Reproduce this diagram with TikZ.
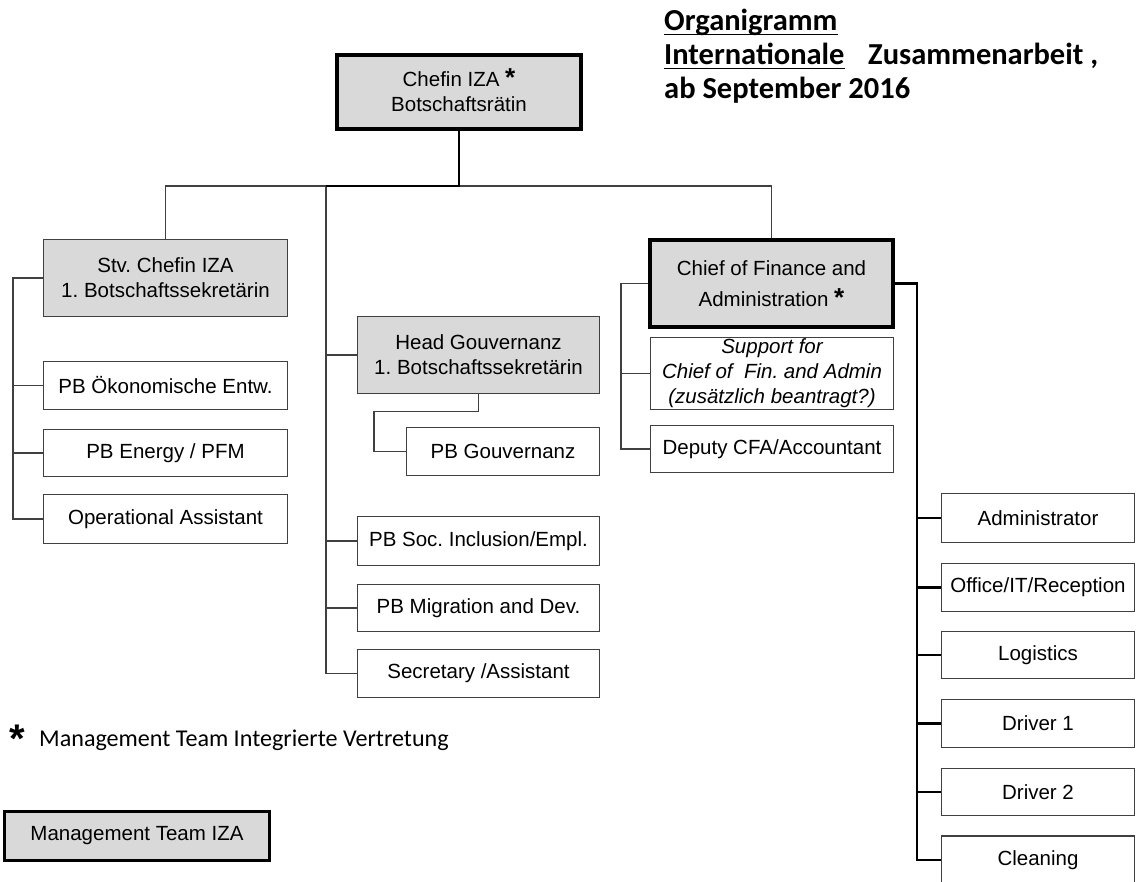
\documentclass[tikz,border=0pt]{standalone}
\usepackage{fontspec}
\setmainfont{Liberation Sans}
\newfontfamily\calibri{Carlito}
\usepackage{tikz}

\definecolor{boxgray}{HTML}{D9D9D9}
\definecolor{linegray}{HTML}{404040}
\newcommand{\boxfont}{\fontsize{20.5}{25}\selectfont\frenchspacing}
\newcommand{\mstar}{\smash{\fontsize{26}{24}\selectfont\bfseries *}}

\begin{document}
\begin{tikzpicture}
[x=1pt,y=-1pt]
\tikzset{
	unit/.style = {rectangle, draw=linegray, line width=1.3pt, inner sep=0pt, minimum width=244pt, minimum height=48pt, font=\boxfont, align=center},
	lead/.style = {unit, fill=boxgray},
	chief/.style = {lead, draw=black, line width=4pt},
	staff/.style = {unit, minimum width=193pt},
	link/.style = {draw=linegray, line width=1.3pt},
	trunk/.style = {draw=black, line width=2.8pt},
	heading/.style = {anchor=base west, inner sep=0pt, font=\calibri\bfseries\fontsize{30.5}{35}\selectfont},
	rule/.style = {draw=black, line width=1.6pt}
}
\useasboundingbox (0,0) rectangle (1137,882);

% title
\node(title1) [heading] at (664,31) {Organigramm};
\node(title2) [heading] at (664,65) {Internationale};
\node(title2b) [heading] at (868,65) {Zusammenarbeit ,};
\node(title3) [heading] at (664,99) {ab September 2016};
\draw[rule] ([yshift=-3.5pt]title1.base west) -- ([yshift=-3.5pt]title1.base east);
\draw[rule] ([yshift=-3.5pt]title2.base west) -- ([yshift=-3.5pt]title2.base east);

% top
\node(chef) [chief, minimum width=244pt, minimum height=74pt] at (459,92) {Chefin IZA \mstar\\Botschaftsrätin};
\coordinate (midbus) at (326,186);

% left branch
\node(stv) [lead, minimum height=77pt] at (165.5,278) {Stv. Chefin IZA\\1. Botschaftssekretärin};
\node(oeko) [unit] at (165.5,385.5) {PB Ökonomische Entw.};
\node(energy) [unit, minimum height=47pt] at (165.5,453) {PB Energy / PFM};
\node(opass) [unit, minimum height=49pt] at (165.5,519) {Operational Assistant};

% middle branch
\node(head) [lead, minimum width=242pt, minimum height=77pt] at (478.5,355) {Head Gouvernanz\\1. Botschaftssekretärin};
\node(pbgouv) [staff] at (503,451.5) {PB Gouvernanz};
\node(soc) [unit, minimum width=242pt, minimum height=49pt] at (478.5,541) {PB Soc. Inclusion/Empl.};
\node(mig) [unit, minimum width=242pt, minimum height=47pt] at (478.5,608) {PB Migration and Dev.};
\node(sec) [unit, minimum width=242pt] at (478.5,673.5) {Secretary /Assistant};

% right branch
\node(cfa) [chief, minimum width=243pt, minimum height=87pt, font=\boxfont\fontsize{20.5}{31}\selectfont] at (771.5,283.5) {Chief of Finance and\\Administration \mstar};
\node(support) [unit, minimum width=243pt, minimum height=72pt, font=\boxfont\itshape] at (772,373.5) {Support for\\Chief of\ \ Fin. and Admin\\(zusätzlich beantragt?)};
\node(deputy) [unit, minimum width=243pt, minimum height=47pt] at (772,449) {Deputy CFA/Accountant};

\node(admin) [staff, minimum height=49pt] at (1038,518) {Administrator};
\node(office) [staff] at (1038,587.5) {Office/IT/Reception};
\node(logistics) [staff, minimum height=47pt] at (1038,655) {Logistics};
\node(driver1) [staff] at (1038,723.5) {Driver 1};
\node(driver2) [staff, minimum height=47pt] at (1038,792) {Driver 2};
\node(cleaning) [staff] at (1038,860) {Cleaning};

% legend
\node(fnstar) [anchor=base, inner sep=0pt, font=\bfseries\fontsize{40}{40}\selectfont] at (17,752) {*};
\node(fntext) [anchor=base west, inner sep=0pt, font=\calibri\fontsize{24.1}{28}\selectfont] at (39,746) {Management Team Integrierte Vertretung};
\node(mgmt) [chief, line width=3pt, minimum width=265pt, minimum height=49pt] at (137,836) {Management Team IZA};

% connectors
\draw[link] (stv.north) |- (midbus) -| (cfa.north);
\draw[link] (midbus) |- (sec.west);
\foreach \n in {head,soc,mig}
	\draw[link] (\n.west) -- ++(-31,0);
\draw[trunk] (chef.south) |- (midbus);

\draw[link] (stv.west) -- ++(-30,0) |- (opass.west);
\foreach \n in {oeko,energy}
	\draw[link] (\n.west) -- ++(-30,0);

\draw[link] (head.south) -- ++(0,17) -| ([xshift=-32pt]pbgouv.west) -- (pbgouv.west);

\draw[link] (cfa.west) -- ++(-27,0) |- (deputy.west);
\draw[link] (support.west) -- ++(-29,0);

\draw[trunk] (cfa.east) -- ++(22,0) |- (cleaning.west);
\foreach \n in {admin,office,logistics,driver1,driver2}
	\draw[trunk] (\n.west) -- ++(-24,0);

\end{tikzpicture}
\end{document}
